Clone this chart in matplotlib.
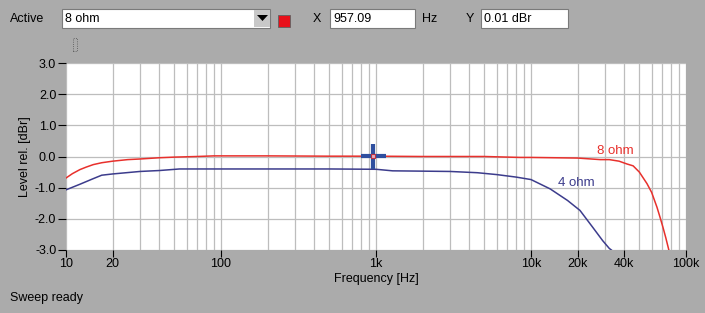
import numpy as np
import matplotlib
matplotlib.use('Agg')
import matplotlib.pyplot as plt
from matplotlib.patches import Rectangle, Polygon
from matplotlib.ticker import FixedLocator, LogLocator, NullFormatter

plt.rcParams['font.family'] = ['Liberation Sans', 'DejaVu Sans']

# measured response, 8 ohm load
freq_8 = [10, 11, 12.3, 13.5, 15, 17, 20, 25, 30, 40, 50, 70, 90, 100, 200, 500,
          1000, 2000, 5000, 8500, 10000, 20000, 28000, 32000, 37000, 41600, 45600,
          50000, 56000, 60000, 65000, 68000, 71000, 74000, 77500]
level_8 = [-0.69, -0.55, -0.42, -0.34, -0.26, -0.2, -0.15, -0.1, -0.08, -0.04, -0.02,
           0.0, 0.02, 0.02, 0.02, 0.01, 0.01, 0.0, 0.0, -0.03, -0.03, -0.05, -0.1,
           -0.1, -0.15, -0.24, -0.3, -0.5, -0.87, -1.15, -1.63, -1.95, -2.27, -2.6, -3.0]

# measured response, 4 ohm load
freq_4 = [10, 12.3, 15, 17, 20, 30, 40, 54, 100, 500, 1000, 1280, 2000, 3000, 4500,
          6000, 8000, 10000, 13300, 17200, 20700, 25000, 29000, 32000, 33000]
level_4 = [-1.07, -0.89, -0.71, -0.6, -0.56, -0.48, -0.45, -0.4, -0.4, -0.4, -0.41,
           -0.46, -0.47, -0.48, -0.52, -0.58, -0.66, -0.74, -1.04, -1.41, -1.73,
           -2.27, -2.7, -2.95, -3.0]

cursor_f = 957.09
cursor_y = 0.01

xticks = [10, 20, 100, 1000, 10000, 20000, 40000, 100000]
xlabels = ['10', '20', '100', '1k', '10k', '20k', '40k', '100k']
yticks = [3, 2, 1, 0, -1, -2, -3]
ylabels = ['3.0', '2.0', '1.0', '0.0', '-1.0', '-2.0', '-3.0']

W, H = 705, 313
bg = '#ababab'
red = '#e8302c'
blue = '#3c3c8c'


def fx(px):
    return px / W


def fy(py):
    return 1 - py / H


fig = plt.figure(figsize=(W / 100, H / 100), dpi=100, facecolor=bg)
ax = fig.add_axes([fx(66), fy(250), (686 - 66) / W, (250 - 63) / H])
ax.set_facecolor('white')

ax.plot(freq_8, level_8, color=red, lw=1.1, solid_joinstyle='round')
ax.plot(freq_4, level_4, color=blue, lw=1.1, solid_joinstyle='round')

# cursor
ax.plot([cursor_f], [cursor_y], marker='+', ms=18, mew=3, color='#2f4f9f', zorder=5)
ax.plot([cursor_f], [cursor_y], marker='s', ms=3, mfc='#e0b0c0', mec='#c03040',
        mew=0.8, zorder=6)

ax.text(26700, 0.17, '8 ohm', color=red, fontsize=9.5, ha='left', va='center')
ax.text(14900, -0.86, '4 ohm', color=blue, fontsize=9.5, ha='left', va='center')

ax.set_xscale('log')
ax.set_xlim(10, 100000)
ax.set_ylim(-3, 3)
ax.xaxis.set_major_locator(FixedLocator(xticks))
ax.set_xticklabels(xlabels)
ax.xaxis.set_minor_locator(LogLocator(base=10, subs=np.arange(2, 10)))
ax.xaxis.set_minor_formatter(NullFormatter())
ax.set_yticks(yticks)
ax.set_yticklabels(ylabels)
ax.tick_params(axis='x', which='major', direction='out', length=5, width=0.8,
               labelsize=9, pad=1)
ax.tick_params(axis='x', which='minor', length=0)
ax.tick_params(axis='y', direction='out', length=6, width=0.8, labelsize=9, pad=1)
ax.grid(True, which='both', axis='x', color='#bdbdbd', lw=0.9)
ax.grid(True, which='major', axis='y', color='#bdbdbd', lw=0.9)
ax.set_axisbelow(True)
for s in ax.spines.values():
    s.set_visible(False)

ax.set_xlabel('Frequency [Hz]', fontsize=9, labelpad=2)
ax.set_ylabel('Level rel. [dBr]', fontsize=9, labelpad=3)

# toolbar across the top
fig.text(fx(10), fy(19), 'Active', fontsize=9, va='center', ha='left')
fig.add_artist(Rectangle((fx(62), fy(28)), (270 - 62) / W, 19 / H,
                         transform=fig.transFigure, facecolor='white',
                         edgecolor='#7a7a7a', lw=0.8))
fig.add_artist(Rectangle((fx(254), fy(27)), 16 / W, 17 / H,
                         transform=fig.transFigure, facecolor='#c8c8c8',
                         edgecolor='none'))
fig.add_artist(Polygon([[fx(257), fy(15)], [fx(268), fy(15)], [fx(262.5), fy(21)]],
                       closed=True, transform=fig.transFigure, facecolor='black'))
fig.text(fx(65), fy(19), '8 ohm', fontsize=9, va='center', ha='left')
fig.add_artist(Rectangle((fx(278), fy(27)), 12 / W, 12 / H,
                         transform=fig.transFigure, facecolor='#e8101a',
                         edgecolor='#606060', lw=0.6))

fig.text(fx(313), fy(19), 'X', fontsize=9, va='center', ha='left')
fig.add_artist(Rectangle((fx(330), fy(28)), 85 / W, 19 / H,
                         transform=fig.transFigure, facecolor='white',
                         edgecolor='#7a7a7a', lw=0.8))
fig.text(fx(333), fy(19), '957.09', fontsize=9, va='center', ha='left')
fig.text(fx(422), fy(19), 'Hz', fontsize=9, va='center', ha='left')

fig.text(fx(466), fy(19), 'Y', fontsize=9, va='center', ha='left')
fig.add_artist(Rectangle((fx(481), fy(28)), 87 / W, 19 / H,
                         transform=fig.transFigure, facecolor='white',
                         edgecolor='#7a7a7a', lw=0.8))
fig.text(fx(484), fy(19), '0.01 dBr', fontsize=9, va='center', ha='left')

# small handle icon
fig.add_artist(Rectangle((fx(72.5), fy(51)), 4.5 / W, 13 / H,
                         transform=fig.transFigure, facecolor='none',
                         edgecolor='#505050', lw=0.6, linestyle=':'))

fig.text(fx(10), fy(298), 'Sweep ready', fontsize=9, va='center', ha='left')

fig.savefig('out.png', dpi=100, facecolor=bg)
